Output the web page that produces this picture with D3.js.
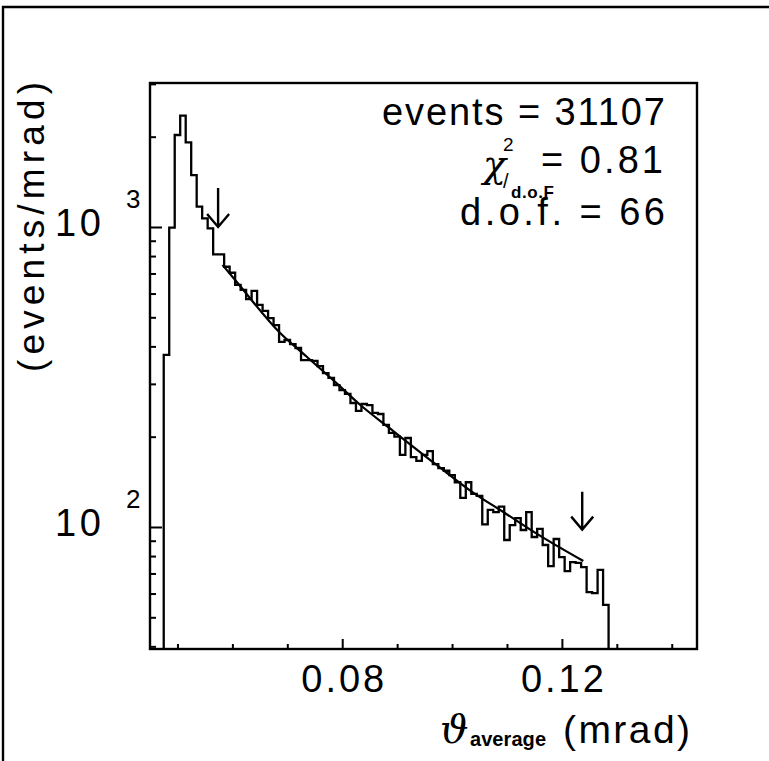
<!DOCTYPE html>
<html>
<head>
    <meta charset="UTF-8">
    <title>theta average</title>
    <style>
        body { margin: 0; background: #fff; }
        text { font-family: "Liberation Sans", Arial, sans-serif; fill: #000; }
        .frame { fill: none; stroke: #000; stroke-width: 2.4; }
        .hist { fill: none; stroke: #000; stroke-width: 2.3; }
        .fit { fill: none; stroke: #000; stroke-width: 2.2; }
        .arrow { fill: none; stroke: #000; stroke-width: 2.4; }
        .axis path { display: none; }
        .axis line { stroke: #000; stroke-width: 2; }
    </style>
</head>
<body>
<script src="https://cdn.jsdelivr.net/npm/d3@7"></script>
<script>
    // histogram: bins of 0.001 mrad starting at 0.0475
    var binStart = 0.0475, binWidth = 0.001;
    var counts = [375, 995, 2026, 2350, 1915, 1490, 1169, 1069, 990, 811,
        811, 737, 704, 641, 617, 575, 612, 550, 525, 497,
        471, 414, 420, 407, 395, 360, 360, 358, 344, 326,
        314, 297, 286, 278, 259, 244, 257, 255, 240, 238,
        219, 206, 200, 174, 198, 171, 166, 174, 179, 162,
        157, 154, 149, 141, 125, 141, 129, 127, 102, 114,
        112, 117, 90.5, 101.5, 107, 97.7, 112, 92.6, 98.5, 87.1,
        74.1, 91.2, 79.4, 71.3, 76.4, 75.9, 73.5, 60.7, 60.2, 71.9,
        55.0];

    // fitted curve
    var fitX = [0.0582, 0.0605, 0.0687, 0.0735, 0.0790, 0.0833, 0.0887, 0.0972, 0.1039, 0.1094, 0.1154, 0.1239];
    var fitY = [747, 666, 443, 370, 301, 255, 213, 161, 130, 112, 95, 77];

    // arrows marking the fit range
    var arrowX = [0.0574, 0.1237];
    var arrowFrom = [1349, 131];
    var arrowTo = [1000, 98];

    var xMajor = [0.08, 0.12];
    var xMinor = [0.05, 0.06, 0.07, 0.09, 0.10, 0.11, 0.13, 0.14];
    var xLabels = ["0.08", "0.12"];
    var yMajor = [100, 1000];
    var yMinor = [40, 50, 60, 70, 80, 90, 200, 300, 400, 500, 600, 700, 800, 900, 2000, 3000];
    var yExponents = ["2", "3"];

    var stats = ["events = 31107", "= 0.81", "d.o.f. = 66"];

    var W = 769, H = 761;
    var box = {left: 150, right: 697, top: 83, bottom: 649};

    var x = d3.scaleLinear().domain([0.045, 0.1446]).range([box.left, box.right]);
    var y = d3.scaleLog().domain([39.2, 3020]).range([box.bottom, box.top]);

    var svg = d3.select("body").append("svg")
        .attr("width", W)
        .attr("height", H);

    // outer border of the page
    svg.append("path")
        .attr("class", "frame")
        .attr("d", "M3,761V7H769");

    svg.append("clipPath").attr("id", "plotclip")
        .append("rect")
        .attr("x", box.left).attr("y", box.top)
        .attr("width", box.right - box.left).attr("height", box.bottom - box.top);

    // x axis ticks (inward)
    svg.append("g").attr("class", "axis")
        .attr("transform", "translate(0," + box.bottom + ")")
        .call(d3.axisBottom(x).tickValues(xMinor).tickSize(-5).tickFormat(""));
    var xa = svg.append("g").attr("class", "axis")
        .attr("transform", "translate(0," + box.bottom + ")")
        .call(d3.axisBottom(x).tickValues(xMajor).tickSize(-10).tickPadding(16)
            .tickFormat(function (d, i) { return xLabels[i]; }));
    xa.selectAll("text")
        .style("font-size", "38px")
        .attr("textLength", 83)
        .attr("lengthAdjust", "spacing");

    // y axis ticks (inward)
    svg.append("g").attr("class", "axis")
        .attr("transform", "translate(" + box.left + ",0)")
        .call(d3.axisLeft(y).tickValues(yMinor).tickSize(-6).tickFormat(""));
    svg.append("g").attr("class", "axis")
        .attr("transform", "translate(" + box.left + ",0)")
        .call(d3.axisLeft(y).tickValues(yMajor).tickSize(-12).tickFormat(""));

    yMajor.forEach(function (v, i) {
        svg.append("text")
            .attr("x", 55).attr("y", y(v) + 9)
            .style("font-size", "38px")
            .attr("textLength", 46).attr("lengthAdjust", "spacing")
            .text("10");
        svg.append("text")
            .attr("x", 126).attr("y", y(v) - 19)
            .style("font-size", "26px")
            .text(yExponents[i]);
    });

    // histogram as a step line
    var pts = [[binStart, y.domain()[0]]];
    counts.forEach(function (c, i) {
        pts.push([binStart + i * binWidth, c]);
    });
    pts.push([binStart + counts.length * binWidth, counts[counts.length - 1]]);
    pts.push([binStart + counts.length * binWidth, y.domain()[0]]);

    var step = d3.line()
        .x(function (d) { return x(d[0]); })
        .y(function (d) { return y(d[1]); })
        .curve(d3.curveStepAfter);

    svg.append("path")
        .datum(pts)
        .attr("class", "hist")
        .attr("clip-path", "url(#plotclip)")
        .attr("d", step);

    // fit curve
    var fitLine = d3.line()
        .x(function (d, i) { return x(fitX[i]); })
        .y(function (d) { return y(d); })
        .curve(d3.curveMonotoneX);

    svg.append("path")
        .datum(fitY)
        .attr("class", "fit")
        .attr("d", fitLine);

    // arrows
    arrowX.forEach(function (ax, i) {
        var px = x(ax), y0 = y(arrowFrom[i]), y1 = y(arrowTo[i]);
        svg.append("path")
            .attr("class", "arrow")
            .attr("d", "M" + px + "," + y0 + "V" + y1 +
                "M" + (px - 11) + "," + (y1 - 13) + "L" + px + "," + y1 + "L" + (px + 11) + "," + (y1 - 13));
    });

    // plot frame
    svg.append("rect")
        .attr("class", "frame")
        .attr("x", box.left).attr("y", box.top)
        .attr("width", box.right - box.left).attr("height", box.bottom - box.top);

    // statistics box
    svg.append("text")
        .attr("x", 665).attr("y", 125)
        .attr("text-anchor", "end")
        .style("font-size", "38px")
        .attr("textLength", 283).attr("lengthAdjust", "spacing")
        .text(stats[0]);

    svg.append("text")
        .attr("x", 483).attr("y", 177)
        .style("font-family", "'DejaVu Serif', serif")
        .style("font-style", "italic")
        .style("font-size", "38px")
        .text("χ");
    svg.append("text")
        .attr("x", 503).attr("y", 151)
        .style("font-size", "19px")
        .text("2");
    svg.append("text")
        .attr("x", 503).attr("y", 188)
        .style("font-size", "20px")
        .text("/");
    svg.append("text")
        .attr("x", 511).attr("y", 198)
        .style("font-size", "17px")
        .style("font-weight", "bold")
        .attr("textLength", 43).attr("lengthAdjust", "spacing")
        .text("d.o.F");
    svg.append("text")
        .attr("x", 663).attr("y", 173)
        .attr("text-anchor", "end")
        .style("font-size", "38px")
        .attr("textLength", 122).attr("lengthAdjust", "spacing")
        .text(stats[1]);

    svg.append("text")
        .attr("x", 665).attr("y", 225)
        .attr("text-anchor", "end")
        .style("font-size", "38px")
        .attr("textLength", 205).attr("lengthAdjust", "spacing")
        .text(stats[2]);

    // y axis title
    svg.append("text")
        .attr("transform", "translate(44,227) rotate(-90)")
        .attr("text-anchor", "middle")
        .style("font-size", "37px")
        .attr("textLength", 290).attr("lengthAdjust", "spacing")
        .text("(events/mrad)");

    // x axis title
    svg.append("text")
        .attr("x", 440).attr("y", 743)
        .style("font-family", "'DejaVu Serif', serif")
        .style("font-style", "italic")
        .style("font-size", "40px")
        .text("ϑ");
    svg.append("text")
        .attr("x", 470).attr("y", 746)
        .style("font-size", "20px")
        .style("font-weight", "bold")
        .attr("textLength", 76).attr("lengthAdjust", "spacing")
        .text("average");
    svg.append("text")
        .attr("x", 563).attr("y", 743)
        .style("font-size", "39px")
        .attr("textLength", 127).attr("lengthAdjust", "spacing")
        .text("(mrad)");
</script>
</body>
</html>
